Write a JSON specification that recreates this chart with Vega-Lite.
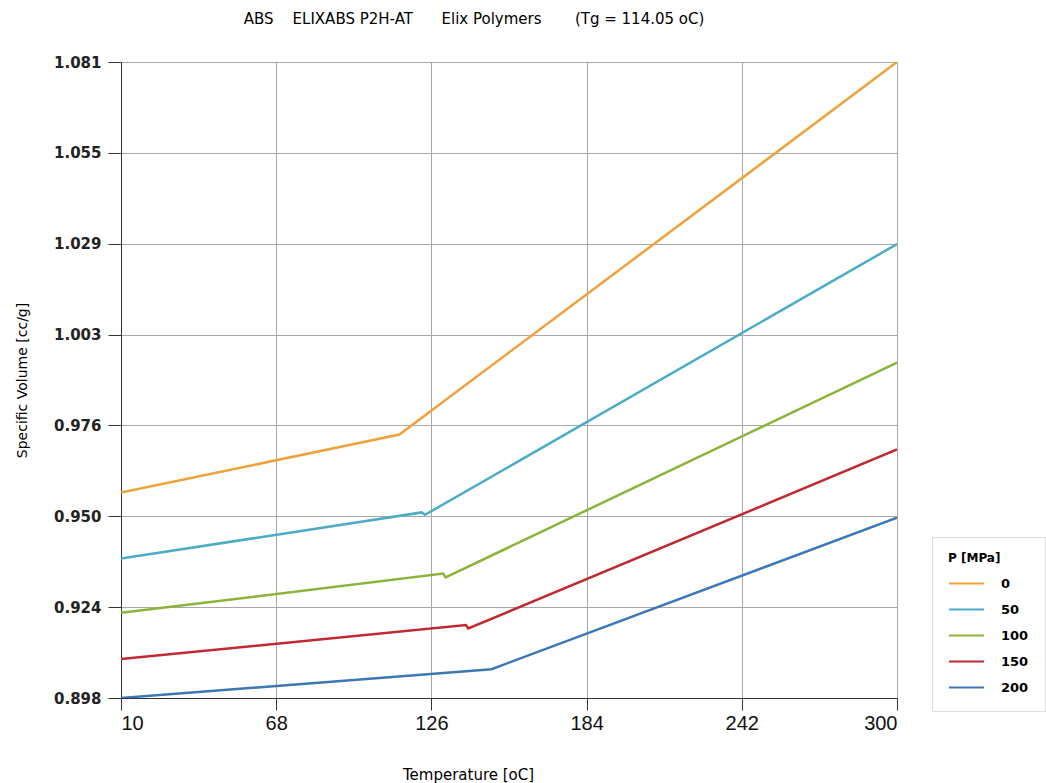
{
  "$schema": "https://vega.github.io/schema/vega-lite/v6.json",
  "width": 776,
  "height": 636,
  "autosize": {"type": "none"},
  "padding": {"left": 121, "top": 62, "right": 149, "bottom": 85},
  "background": "white",
  "config": {
    "view": {"stroke": "#333", "strokeWidth": 1},
    "font": "DejaVu Sans"
  },
  "title": {
    "text": "ABS\u00a0\u00a0\u00a0\u00a0ELIXABS P2H-AT\u00a0\u00a0\u00a0\u00a0\u00a0\u00a0Elix Polymers\u00a0\u00a0\u00a0\u00a0\u00a0\u00a0\u00a0(Tg = 114.05 oC)",
    "fontSize": 15,
    "fontWeight": "normal",
    "color": "#000",
    "anchor": "middle",
    "dx": -35,
    "offset": 28,
    "font": "DejaVu Sans"
  },
  "data": {
    "values": [
      {"P": 0, "T": 10, "V": 0.9571},
      {"P": 0, "T": 114.05, "V": 0.9738},
      {"P": 0, "T": 300, "V": 1.081},
      {"P": 50, "T": 10, "V": 0.9381},
      {"P": 50, "T": 122.4, "V": 0.9514},
      {"P": 50, "T": 123.6, "V": 0.9507},
      {"P": 50, "T": 300, "V": 1.0286},
      {"P": 100, "T": 10, "V": 0.9225},
      {"P": 100, "T": 130.4, "V": 0.9338},
      {"P": 100, "T": 131.3, "V": 0.9327},
      {"P": 100, "T": 300, "V": 0.9945},
      {"P": 150, "T": 10, "V": 0.9092},
      {"P": 150, "T": 138.9, "V": 0.919},
      {"P": 150, "T": 139.8, "V": 0.918},
      {"P": 150, "T": 300, "V": 0.9695},
      {"P": 200, "T": 10, "V": 0.898},
      {"P": 200, "T": 148.5, "V": 0.9063},
      {"P": 200, "T": 300, "V": 0.9499}
    ]
  },
  "mark": {"type": "line", "strokeWidth": 2.5, "clip": true},
  "encoding": {
    "x": {
      "field": "T",
      "type": "quantitative",
      "scale": {"domain": [10, 300], "nice": false, "zero": false},
      "axis": {
        "values": [10, 68, 126, 184, 242, 300],
        "title": "Temperature [oC]",
        "titleFont": "DejaVu Sans",
        "titleFontSize": 15,
        "titleFontWeight": "normal",
        "titleColor": "#000",
        "titlePadding": 34,
        "titleX": 347,
        "labelFont": "Liberation Sans",
        "labelFontSize": 20,
        "labelColor": "#111",
        "labelPadding": 3,
        "tickSize": 12,
        "tickColor": "#333",
        "domainColor": "#333",
        "grid": true,
        "gridColor": "#a8a8a8",
        "gridWidth": 1
      }
    },
    "y": {
      "field": "V",
      "type": "quantitative",
      "scale": {"domain": [0.898, 1.081], "nice": false, "zero": false},
      "axis": {
        "values": [0.898, 0.92414, 0.95029, 0.97643, 1.00257, 1.02871, 1.05486, 1.081],
        "format": ".3f",
        "title": "Specific Volume [cc/g]",
        "titleFont": "DejaVu Sans",
        "titleFontSize": 14,
        "titleFontWeight": "normal",
        "titleColor": "#000",
        "titlePadding": 24,
        "labelFont": "DejaVu Sans",
        "labelFontSize": 15,
        "labelFontWeight": "bold",
        "labelColor": "#222",
        "labelPadding": 7,
        "tickSize": 13,
        "tickColor": "#333",
        "domainColor": "#333",
        "grid": true,
        "gridColor": "#a8a8a8",
        "gridWidth": 1
      }
    },
    "color": {
      "field": "P",
      "type": "nominal",
      "scale": {
        "domain": [0, 50, 100, 150, 200],
        "range": ["#EFA23A", "#4BACC6", "#8CB43C", "#C0292F", "#3C78B4"]
      },
      "legend": {
        "title": "P [MPa]",
        "orient": "none",
        "legendX": 811,
        "legendY": 475,
        "padding": 16,
        "strokeColor": "#ddd",
        "fillColor": "white",
        "titleFont": "DejaVu Sans",
        "titleFontSize": 12,
        "titleFontWeight": "bold",
        "titleColor": "#000",
        "titlePadding": 0,
        "labelFont": "DejaVu Sans",
        "labelFontSize": 13,
        "labelFontWeight": "bold",
        "labelColor": "#000",
        "labelOffset": 16,
        "symbolType": "stroke",
        "symbolSize": 1225,
        "symbolStrokeWidth": 2,
        "rowPadding": -14
      }
    }
  }
}
